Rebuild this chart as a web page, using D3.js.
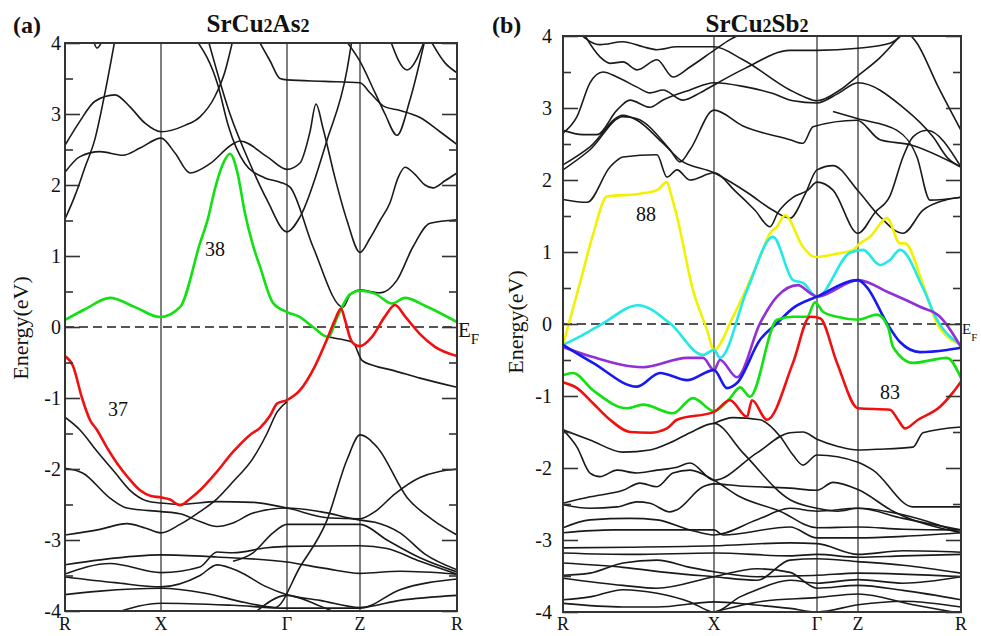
<!DOCTYPE html>
<html>
<head>
<meta charset="utf-8">
<script src="https://cdn.jsdelivr.net/npm/d3@7/dist/d3.min.js"></script>
<style>
  body { margin: 0; background: #fff; }
  svg text { font-family: "Liberation Serif", "Times New Roman", serif; fill: #111; }
</style>
</head>
<body>
<div id="chart"></div>
<script>
// k-path coordinates of the high symmetry points, energies in eV
const kPointsA = [0, 0.96, 2.22, 2.95, 3.92];
const kPointsB = [0, 1.51, 2.54, 2.95, 3.98];
const kLabels = ['R', 'X', 'Γ', 'Z', 'R'];
const energyTicks = [-4, -3, -2, -1, 0, 1, 2, 3, 4];
const energyMinor = [-3.5, -2.5, -1.5, -0.5, 0.5, 1.5, 2.5, 3.5];

// SrCu2As2 highlighted bands
const band37A = [[0,-0.41],[0.08,-0.55],[0.17,-1.0],[0.25,-1.31],[0.32,-1.45],[0.42,-1.7],[0.52,-1.92],[0.63,-2.12],[0.75,-2.3],[0.86,-2.38],[0.96,-2.4],[1.05,-2.43],[1.15,-2.51],[1.25,-2.42],[1.35,-2.3],[1.5,-2.07],[1.68,-1.76],[1.85,-1.52],[1.95,-1.42],[2.05,-1.25],[2.12,-1.08],[2.22,-1.03],[2.35,-0.89],[2.5,-0.55],[2.63,-0.14],[2.7,0.1],[2.76,0.26],[2.8,0.1],[2.85,-0.15],[2.9,-0.25],[2.95,-0.27],[3.07,-0.14],[3.2,0.15],[3.3,0.31],[3.4,0.15],[3.55,-0.1],[3.7,-0.28],[3.92,-0.41]];
const band38A = [[0,0.1],[0.2,0.25],[0.45,0.41],[0.7,0.28],[0.95,0.14],[1.15,0.28],[1.35,1.18],[1.43,1.53],[1.5,1.95],[1.58,2.3],[1.65,2.44],[1.72,2.2],[1.8,1.6],[1.88,1.15],[1.95,0.85],[2.08,0.34],[2.22,0.21],[2.35,0.14],[2.48,0],[2.63,-0.14],[2.72,0.13],[2.77,0.28],[2.85,0.46],[2.95,0.51],[3.1,0.47],[3.27,0.33],[3.4,0.41],[3.6,0.3],[3.92,0.07]];

// SrCu2As2 other bands
const otherBandsA = [
  [[0,1.52],[0.1,1.85],[0.2,2.25],[0.3,2.65],[0.4,3.3],[0.5,4.05]],
  [[0,2.56],[0.15,2.9],[0.3,3.18],[0.5,3.27],[0.65,3.1],[0.8,2.87],[0.96,2.75],[1.2,2.84],[1.35,2.96],[1.5,3.25],[1.6,3.6],[1.68,4.05]],
  [[0,2.18],[0.15,2.4],[0.35,2.47],[0.58,2.42],[0.75,2.52],[0.96,2.66],[1.1,2.45],[1.25,2.17],[1.45,2.3],[1.67,2.57],[1.75,2.62],[2.02,2.4],[2.22,2.22],[2.35,2.31],[2.45,2.75],[2.51,3.14],[2.58,2.8],[2.7,2.1],[2.82,1.5],[2.95,1.05],[3.05,1.25],[3.15,1.5],[3.25,1.75],[3.33,2.1],[3.4,2.25],[3.5,2.15],[3.6,2.0],[3.68,1.96],[3.8,2.06],[3.92,2.17]],
  [[1.31,4.05],[1.53,3.4],[1.63,2.85],[1.8,2.3],[2.0,2.1],[2.15,2.04],[2.25,1.97],[2.48,1.13],[2.78,0.28],[2.85,0.45],[2.95,0.52],[3.15,0.48],[3.32,0.66],[3.48,1.13],[3.65,1.46],[3.92,1.51]],
  [[1.43,4.05],[1.65,3.0],[1.85,2.3],[2.02,1.79],[2.22,1.34],[2.35,1.55],[2.62,2.63],[2.82,3.62],[2.87,4.05]],
  [[1.93,4.05],[2.05,3.75],[2.15,3.5],[2.22,3.48],[2.6,3.46],[2.95,3.44],[3.05,3.3],[3.2,3.1],[3.35,3.05],[3.55,2.95],[3.75,2.75],[3.92,2.57]],
  [[2.8,4.05],[2.95,3.74],[3.1,3.3],[3.2,3.0],[3.32,2.7],[3.45,3.2],[3.6,4.05]],
  [[3.25,4.05],[3.42,3.62],[3.6,4.05]],
  [[3.65,4.05],[3.8,3.72],[3.92,3.58]],
  [[0.28,4.05],[0.32,3.93],[0.38,4.05]],
  [[2.63,-0.14],[2.75,-0.17],[2.88,-0.22],[2.97,-0.47],[3.1,-0.55],[3.25,-0.6],[3.55,-0.72],[3.92,-0.85]],
  [[0,-1.27],[0.15,-1.45],[0.32,-1.75],[0.5,-2.05],[0.65,-2.3],[0.82,-2.45],[0.96,-2.48],[1.15,-2.5],[1.52,-2.46],[1.88,-2.47],[2.22,-2.55],[2.65,-2.69],[2.95,-2.7],[3.1,-2.6],[3.3,-2.35],[3.55,-2.12],[3.92,-2.0]],
  [[0,-1.99],[0.18,-2.06],[0.45,-2.41],[0.62,-2.55],[0.96,-2.6],[1.15,-2.63],[1.35,-2.74],[1.52,-2.81],[1.68,-2.76],[1.88,-2.62],[2.22,-2.55],[2.55,-2.6],[2.95,-2.72],[3.1,-2.75],[3.35,-2.9],[3.6,-3.2],[3.92,-3.42]],
  [[0,-2.93],[0.35,-2.85],[0.62,-2.77],[0.8,-2.83],[0.96,-2.9],[1.15,-2.78],[1.35,-2.6],[1.52,-2.42],[1.68,-2.18],[1.88,-1.85],[2.02,-1.5],[2.12,-1.2],[2.22,-1.05]],
  [[1.68,-3.3],[1.88,-3.18],[2.08,-2.9],[2.22,-2.78],[2.6,-2.78],[2.95,-2.78],[3.22,-3.0],[3.55,-3.25],[3.92,-3.45]],
  [[0,-3.48],[0.45,-3.33],[0.96,-3.46],[1.35,-3.38],[1.52,-3.17],[1.68,-3.18],[2.02,-3.11],[2.22,-3.09],[2.95,-3.08],[3.22,-3.12],[3.55,-3.3],[3.92,-3.48]],
  [[0,-3.52],[0.5,-3.6],[0.96,-3.66],[1.35,-3.5],[1.52,-3.35],[1.75,-3.45],[2.0,-3.65],[2.22,-3.77],[2.55,-3.85],[2.95,-3.95],[3.35,-3.85],[3.92,-3.78]],
  [[0,-3.35],[0.35,-3.28],[0.96,-3.21],[1.52,-3.24],[2.22,-3.31],[2.6,-3.4],[2.95,-3.47],[3.35,-3.44],[3.92,-3.48]],
  [[0,-3.77],[0.35,-3.72],[0.96,-3.68],[1.4,-3.75],[1.8,-3.88],[2.1,-3.95],[2.35,-3.38],[2.62,-2.72],[2.82,-1.87],[2.95,-1.52],[3.12,-1.69],[3.42,-2.4],[3.68,-2.72],[3.92,-2.93]],
  [[0.52,-4.02],[0.96,-3.89],[1.68,-3.92],[2.22,-3.96],[2.95,-3.96],[3.35,-3.7],[3.92,-3.55]],
  [[1.9,-4.02],[2.22,-3.78],[2.5,-3.9],[2.7,-4.02]]
];

// SrCu2Sb2 highlighted bands
const band88B = [[0,-0.29],[0.17,0.57],[0.3,1.24],[0.44,1.77],[0.77,1.81],[0.94,1.86],[1.04,1.97],[1.08,1.8],[1.14,1.49],[1.3,0.47],[1.44,-0.08],[1.51,-0.36],[1.7,0.1],[1.97,0.93],[2.07,1.26],[2.14,1.35],[2.22,1.51],[2.4,1.07],[2.52,0.93],[2.75,0.98],[2.9,1.03],[2.97,1.12],[3.07,1.21],[3.24,1.47],[3.37,1.12],[3.42,1.12],[3.6,0.55],[3.74,0.01],[3.98,-0.29]];
const cyanB = [[0,-0.29],[0.2,-0.15],[0.4,0.01],[0.75,0.26],[1.07,0.01],[1.4,-0.43],[1.51,-0.36],[1.57,-0.47],[1.84,0.47],[2.1,1.21],[2.3,0.61],[2.4,0.57],[2.54,0.38],[2.87,0.99],[3.0,1.03],[3.17,0.82],[3.27,0.89],[3.37,1.03],[3.6,0.5],[3.74,0.06],[3.98,-0.29]];
const purpleB = [[0,-0.32],[0.3,-0.46],[0.8,-0.6],[1.24,-0.47],[1.4,-0.47],[1.51,-0.64],[1.57,-0.5],[1.74,-0.74],[1.97,0.01],[2.14,0.38],[2.35,0.54],[2.47,0.43],[2.54,0.38],[2.95,0.61],[3.27,0.43],[3.57,0.24],[3.77,0.1],[3.98,-0.32]];
const blueB = [[0,-0.29],[0.3,-0.54],[0.74,-0.87],[0.97,-0.68],[1.24,-0.78],[1.51,-0.64],[1.64,-0.89],[1.74,-0.82],[1.97,-0.22],[2.14,0.01],[2.3,0.22],[2.54,0.38],[2.95,0.61],[3.04,0.51],[3.24,0.01],[3.37,-0.25],[3.57,-0.39],[3.84,-0.36],[3.98,-0.33]];
const greenB = [[0,-0.71],[0.1,-0.68],[0.3,-0.92],[0.64,-1.17],[0.8,-1.12],[1.1,-1.24],[1.3,-1.03],[1.51,-1.21],[1.67,-1.03],[1.77,-0.88],[1.87,-1.01],[2.14,0.06],[2.3,0.1],[2.44,0.1],[2.52,0.3],[2.6,0.17],[2.74,0.1],[2.95,0.06],[3.14,0.13],[3.25,-0.04],[3.3,-0.32],[3.5,-0.54],[3.84,-0.47],[3.98,-0.75]];
const band83B = [[0,-0.81],[0.14,-0.89],[0.3,-1.1],[0.47,-1.33],[0.67,-1.5],[0.87,-1.51],[1.04,-1.45],[1.14,-1.33],[1.51,-1.22],[1.67,-1.06],[1.84,-1.29],[1.89,-1.06],[2.04,-1.33],[2.3,-0.54],[2.47,0.1],[2.57,0.08],[2.74,-0.54],[2.95,-1.17],[3.27,-1.19],[3.35,-1.33],[3.42,-1.45],[3.55,-1.33],[3.77,-1.15],[3.9,-0.95],[3.98,-0.8]];

// SrCu2Sb2 other bands
const otherBandsB = [
  [[0,1.73],[0.24,1.69],[0.47,2.18],[0.6,2.32],[0.94,2.35],[1.04,2.04],[1.14,2.14],[1.27,2.0],[1.51,2.1],[1.72,1.85],[1.92,1.58],[2.07,1.35],[2.15,1.55],[2.3,1.76],[2.45,1.86],[2.54,1.97],[2.7,1.86],[2.95,1.26],[3.12,1.55],[3.27,1.78],[3.4,2.32],[3.5,2.6],[3.64,2.69],[3.98,2.18]],
  [[0,2.21],[0.27,2.46],[0.6,2.9],[0.74,2.83],[1.0,2.51],[1.17,2.28],[1.51,2.1],[1.85,1.82],[2.1,1.58],[2.27,1.47],[2.42,1.8],[2.54,2.14],[2.7,2.2],[2.95,1.85],[3.17,1.49],[3.4,1.26],[3.6,1.58],[3.82,1.72],[3.98,1.76]],
  [[0,2.14],[0.27,2.42],[0.6,2.88],[0.74,2.85],[1.07,2.42],[1.17,2.25],[1.27,2.42],[1.51,2.97],[1.8,2.75],[2.27,2.56],[2.4,2.51],[2.5,2.74],[2.94,2.83],[3.17,2.56],[3.47,2.49],[3.98,2.18]],
  [[0,2.69],[0.2,2.63],[0.34,2.63],[0.54,2.97],[0.67,3.11],[0.87,3.01],[1.0,3.11],[1.27,3.25],[1.51,3.35],[1.8,3.3],[2.1,3.2],[2.3,3.1],[2.54,3.07],[2.75,3.2],[2.95,3.35],[3.4,3.01],[3.7,2.6],[3.85,2.3],[3.98,2.18]],
  [[0,2.65],[0.14,2.88],[0.27,3.35],[0.4,3.5],[0.54,3.43],[0.74,3.29],[0.87,3.21],[1.0,3.25],[1.2,3.11],[1.37,3.21],[1.51,3.32],[1.82,3.55],[2.27,3.8],[2.54,3.8],[2.95,3.83],[3.27,3.9],[3.42,4.05]],
  [[0.2,4.05],[0.37,3.71],[0.47,3.62],[0.6,3.64],[0.74,3.53],[0.94,3.67],[1.1,3.43],[1.27,3.57],[1.51,3.8],[1.67,3.95],[1.82,4.05]],
  [[0.15,4.05],[0.37,3.88],[0.6,3.92],[0.8,3.85],[0.94,3.81],[1.14,3.85],[1.51,3.85],[1.8,3.67],[2.27,3.25],[2.42,3.15],[2.54,3.1],[2.77,3.25],[2.95,3.45],[3.17,3.7],[3.4,4.05]],
  [[3.45,4.05],[3.54,3.9],[3.75,3.3],[3.98,2.69]],
  [[2.7,2.95],[2.95,2.85],[3.34,2.69],[3.54,2.32],[3.67,1.72],[3.98,1.76]],
  [[0,-1.47],[0.27,-1.61],[0.6,-1.78],[0.87,-1.75],[1.07,-1.65],[1.27,-1.51],[1.51,-1.38],[1.8,-1.79],[2.27,-2.44],[2.54,-2.56],[2.75,-2.6],[2.95,-2.56],[3.4,-2.7],[3.98,-2.86]],
  [[0,-1.47],[0.14,-1.71],[0.27,-2.07],[0.37,-2.12],[0.54,-2.03],[0.74,-2.07],[0.94,-2.03],[1.14,-1.99],[1.27,-1.93],[1.51,-2.17],[1.94,-1.79],[2.27,-1.51],[2.4,-1.5],[2.54,-1.6],[2.75,-1.7],[2.95,-1.75],[3.14,-1.74],[3.5,-1.71],[3.6,-1.51],[3.98,-1.43]],
  [[1.51,-1.38],[1.7,-1.3],[1.97,-1.33],[2.17,-1.56],[2.3,-1.82],[2.4,-1.96],[2.54,-1.82],[2.95,-1.92],[3.1,-2.03],[3.5,-2.54],[3.98,-2.54]],
  [[0,-2.49],[0.27,-2.4],[0.6,-2.31],[0.77,-2.21],[0.94,-2.26],[1.1,-2.07],[1.27,-2.03],[1.51,-2.17],[1.77,-2.4],[2.17,-2.6],[2.54,-2.83],[2.95,-2.82],[3.4,-2.85],[3.98,-2.86]],
  [[0,-2.51],[0.27,-2.56],[0.54,-2.54],[0.74,-2.47],[0.87,-2.49],[1.07,-2.61],[1.14,-2.58],[1.4,-2.26],[1.51,-2.22],[1.77,-2.25],[2.27,-2.28],[2.54,-2.31],[2.7,-2.2],[2.95,-2.3],[3.3,-2.6],[3.98,-2.9]],
  [[0,-2.83],[0.27,-2.72],[0.67,-2.7],[0.94,-2.72],[1.27,-2.86],[1.51,-2.93],[1.94,-2.72],[2.27,-2.56],[2.54,-2.6],[2.95,-2.56],[3.4,-2.65],[3.98,-2.9]],
  [[0,-2.9],[0.5,-2.86],[0.94,-2.86],[1.51,-2.86],[1.6,-2.93],[2.27,-2.82],[2.54,-2.97],[2.95,-2.97],[3.4,-2.95],[3.98,-2.9]],
  [[0,-3.11],[0.67,-3.1],[1.51,-3.08],[2.27,-3.04],[2.54,-3.05],[2.95,-3.2],[3.4,-3.15],[3.98,-3.17]],
  [[0,-3.18],[0.7,-3.2],[1.51,-3.18],[2.27,-3.22],[2.54,-3.2],[2.95,-3.24],[3.4,-3.22],[3.98,-3.2]],
  [[0,-3.32],[0.6,-3.38],[1.1,-3.46],[1.51,-3.51],[1.94,-3.56],[2.27,-3.28],[2.54,-3.26],[2.95,-3.3],[3.4,-3.35],[3.98,-3.46]],
  [[0,-3.49],[0.27,-3.46],[0.6,-3.32],[0.94,-3.28],[1.27,-3.38],[1.51,-3.44],[1.94,-3.51],[2.27,-3.5],[2.54,-3.49],[2.95,-3.46],[3.98,-3.51]],
  [[0,-3.53],[0.6,-3.63],[0.94,-3.67],[1.51,-3.51],[1.94,-3.4],[2.27,-3.45],[2.54,-3.67],[2.95,-3.63],[3.4,-3.7],[3.98,-3.83]],
  [[0,-3.83],[0.27,-3.79],[0.6,-3.69],[0.94,-3.74],[1.27,-3.86],[1.51,-4.0],[1.77,-3.79],[1.94,-3.69],[2.27,-3.56],[2.54,-3.6],[2.95,-3.55],[3.4,-3.6],[3.98,-3.51]],
  [[0,-3.88],[0.6,-3.93],[0.94,-3.93],[1.51,-3.86],[1.9,-3.9],[2.27,-3.95],[2.54,-4.0],[2.95,-3.9],[3.4,-3.85],[3.98,-3.93]],
  [[0,-4.0],[0.5,-4.0],[0.8,-4.05]],
  [[1.51,-4.0],[2.0,-3.85],[2.54,-3.8],[2.95,-3.75],[3.5,-3.9],[3.98,-4.02]]
];

const width = 981;
const height = 636;

const svg = d3.select('#chart')
  .append('svg')
  .attr('width', width)
  .attr('height', height);

function drawPanel(opt) {
  const kEnd = opt.kPoints[opt.kPoints.length - 1];
  const x = d3.scaleLinear().domain([0, kEnd]).range([opt.left, opt.right]);
  const y = d3.scaleLinear().domain([-4, 4]).range([opt.bottom, opt.top]);

  const g = svg.append('g').attr('class', 'panel ' + opt.id);

  g.append('clipPath')
    .attr('id', 'clip-' + opt.id)
    .append('rect')
    .attr('x', opt.left)
    .attr('y', opt.top)
    .attr('width', opt.right - opt.left)
    .attr('height', opt.bottom - opt.top);

  // high symmetry lines
  g.append('g')
    .selectAll('line')
    .data(opt.kPoints.slice(1, -1))
    .enter()
    .append('line')
    .attr('x1', d => x(d))
    .attr('x2', d => x(d))
    .attr('y1', opt.top)
    .attr('y2', opt.bottom)
    .attr('stroke', '#555')
    .attr('stroke-width', 1.5);

  // Fermi level
  g.append('line')
    .attr('x1', opt.left)
    .attr('x2', opt.right)
    .attr('y1', y(0))
    .attr('y2', y(0))
    .attr('stroke', '#555')
    .attr('stroke-width', 2.2)
    .attr('stroke-dasharray', '9,5');

  const line = d3.line()
    .x(d => x(d[0]))
    .y(d => y(d[1]))
    .curve(d3.curveMonotoneX);

  const bands = g.append('g').attr('clip-path', `url(#clip-${opt.id})`);

  bands.selectAll('path.band')
    .data(opt.others)
    .enter()
    .append('path')
    .attr('class', 'band')
    .attr('d', line)
    .attr('fill', 'none')
    .attr('stroke', '#1a1a1a')
    .attr('stroke-width', 1.6);

  bands.selectAll('path.hl')
    .data(opt.colored)
    .enter()
    .append('path')
    .attr('class', 'hl')
    .attr('d', d => line(d.values))
    .attr('fill', 'none')
    .attr('stroke', d => d.color)
    .attr('stroke-width', 2.6);

  // axes, ticks pointing inward
  const yLeft = d3.axisLeft(y).tickValues(energyTicks).tickSize(-15).tickPadding(opt.labelPad)
    .tickFormat(d => String(d));
  const yLeftMinor = d3.axisLeft(y).tickValues(energyMinor).tickSize(-8).tickFormat('');
  const yRight = d3.axisRight(y).tickValues(energyTicks).tickSize(-15).tickFormat('');
  const yRightMinor = d3.axisRight(y).tickValues(energyMinor).tickSize(-8).tickFormat('');

  const axL = g.append('g').attr('transform', `translate(${opt.left},0)`).call(yLeft);
  g.append('g').attr('transform', `translate(${opt.left},0)`).call(yLeftMinor);
  g.append('g').attr('transform', `translate(${opt.right},0)`).call(yRight);
  g.append('g').attr('transform', `translate(${opt.right},0)`).call(yRightMinor);
  g.selectAll('.domain').remove();
  g.selectAll('.tick line').attr('stroke', '#333').attr('stroke-width', 1.6);
  axL.selectAll('text')
    .style('font-size', '20px')
    .attr('fill', '#111')
    .attr('font-family', '"Liberation Serif", serif');

  // frame
  g.append('rect')
    .attr('x', opt.left)
    .attr('y', opt.top)
    .attr('width', opt.right - opt.left)
    .attr('height', opt.bottom - opt.top)
    .attr('fill', 'none')
    .attr('stroke', '#333')
    .attr('stroke-width', 2);

  // k labels
  g.append('g')
    .selectAll('text')
    .data(opt.kPoints)
    .enter()
    .append('text')
    .attr('x', d => x(d))
    .attr('y', 630)
    .attr('text-anchor', 'middle')
    .style('font-size', '18px')
    .text((d, i) => kLabels[i]);

  // y label
  g.append('text')
    .attr('transform', `translate(${opt.yLabelX},${opt.yLabelY}) rotate(-90)`)
    .attr('text-anchor', 'middle')
    .style('font-size', '22px')
    .text('Energy(eV)');

  // panel letter and title
  g.append('text')
    .attr('x', opt.letterX)
    .attr('y', 33)
    .style('font-size', '24px')
    .style('font-weight', 'bold')
    .text(opt.letter);

  const title = g.append('text')
    .attr('x', opt.titleX)
    .attr('y', 32)
    .attr('text-anchor', 'middle')
    .style('font-weight', 'bold');
  opt.title.forEach((part, i) => {
    title.append('tspan')
      .style('font-size', i % 2 ? '18px' : '25px')
      .text(part);
  });

  // Fermi label
  const ef = g.append('text')
    .attr('x', opt.right + 1)
    .attr('y', y(0) + 10)
    .style('font-size', opt.efSize + 'px');
  ef.append('tspan').text('E');
  ef.append('tspan').attr('dy', 7).style('font-size', Math.round(opt.efSize * 0.7) + 'px').text('F');

  // band indices
  g.append('g')
    .selectAll('text')
    .data(opt.tags)
    .enter()
    .append('text')
    .attr('x', d => x(d.k))
    .attr('y', d => y(d.e))
    .attr('dy', '0.35em')
    .attr('text-anchor', 'middle')
    .style('font-size', '20px')
    .text(d => d.text);
}

drawPanel({
  id: 'a',
  left: 65, right: 457, top: 43, bottom: 611,
  kPoints: kPointsA,
  others: otherBandsA,
  colored: [
    { values: band38A, color: '#11e011' },
    { values: band37A, color: '#f01010' },
  ],
  labelPad: 4,
  yLabelX: 28, yLabelY: 328,
  letter: '(a)', letterX: 13,
  title: ['SrCu', '2', 'As', '2'], titleX: 258,
  efSize: 21,
  tags: [{ k: 1.5, e: 1.1, text: '38' }, { k: 0.53, e: -1.15, text: '37' }],
});

drawPanel({
  id: 'b',
  left: 563, right: 961, top: 36, bottom: 612,
  kPoints: kPointsB,
  others: otherBandsB,
  colored: [
    { values: band88B, color: '#f2f200' },
    { values: cyanB, color: '#22e8e8' },
    { values: purpleB, color: '#9030d8' },
    { values: blueB, color: '#1818f0' },
    { values: greenB, color: '#11e011' },
    { values: band83B, color: '#f01010' },
  ],
  labelPad: 11,
  yLabelX: 523, yLabelY: 322,
  letter: '(b)', letterX: 492,
  title: ['SrCu', '2', 'Sb', '2'], titleX: 757,
  efSize: 15,
  tags: [{ k: 0.83, e: 1.53, text: '88' }, { k: 3.27, e: -0.94, text: '83' }],
});
</script>
</body>
</html>
